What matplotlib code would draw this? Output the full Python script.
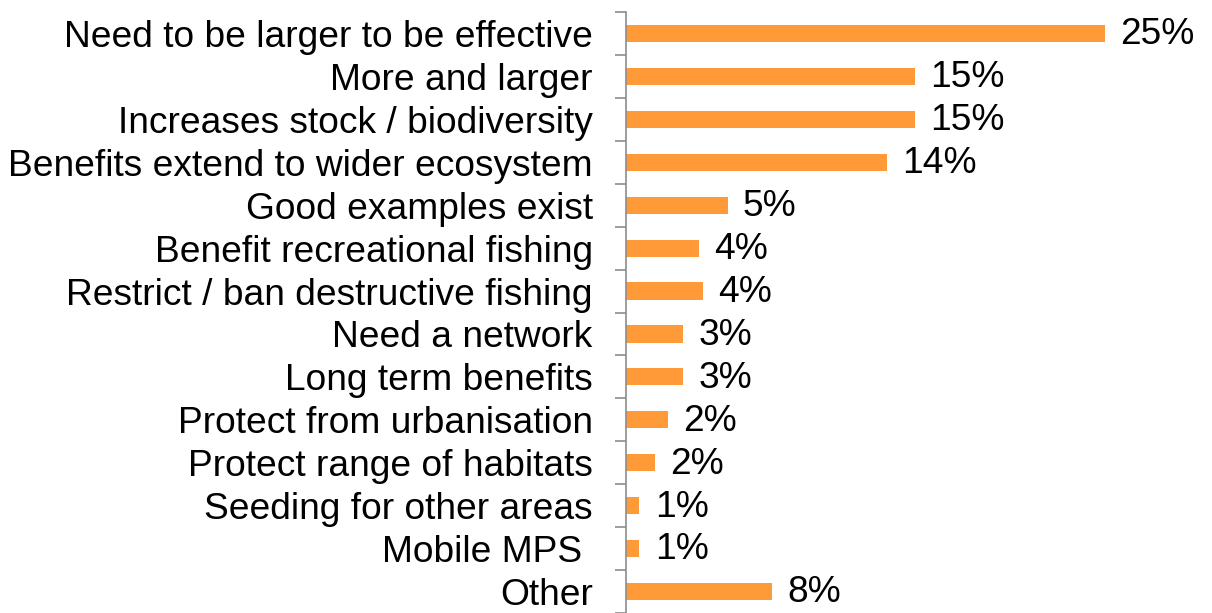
import matplotlib
matplotlib.use("Agg")
import matplotlib.pyplot as plt
import numpy as np

plt.rcParams['font.family'] = ['Liberation Sans', 'DejaVu Sans']

categories = [
    "Need to be larger to be effective",
    "More and larger",
    "Increases stock / biodiversity",
    "Benefits extend to wider ecosystem",
    "Good examples exist",
    "Benefit recreational fishing",
    "Restrict / ban destructive fishing",
    "Need a network",
    "Long term benefits",
    "Protect from urbanisation",
    "Protect range of habitats",
    "Seeding for other areas",
    "Mobile MPS ",
    "Other",
]
values = [25.0, 15.1, 15.1, 13.6, 5.3, 3.8, 4.0, 3.0, 3.0, 2.2, 1.5, 0.7, 0.7, 7.6]
value_labels = ["25%", "15%", "15%", "14%", "5%", "4%", "4%", "3%", "3%",
                "2%", "2%", "1%", "1%", "8%"]

fig = plt.figure(figsize=(12.12, 6.13), dpi=100)
ax = fig.add_axes([626 / 1212, 0.0, 586 / 1212, 601 / 613])

y = np.arange(len(categories))
ax.barh(y, values, height=0.4, color='#FF9A38')

for yi, v, lab in zip(y, values, value_labels):
    ax.annotate(lab, (v, yi), xytext=(11, -1), textcoords='offset points',
                va='center', ha='left', fontsize=26.7, color='black')

ax.set_ylim(len(categories) - 0.5, -0.5)
ax.set_xlim(0, 586 / 19.16)

ax.set_yticks(y)
ax.set_yticklabels(categories, fontsize=26.7)
ax.tick_params(axis='y', which='major', length=0, pad=24)
ax.set_yticks(np.arange(-0.5, len(categories) - 0.4, 1), minor=True)
ax.tick_params(axis='y', which='minor', length=8, width=1.2, color='#8c8c8c')

ax.set_xticks([])
for s in ['top', 'right', 'bottom']:
    ax.spines[s].set_visible(False)
ax.spines['left'].set_color('#8c8c8c')
ax.spines['left'].set_linewidth(1.2)

fig.savefig("out.png", dpi=100)
